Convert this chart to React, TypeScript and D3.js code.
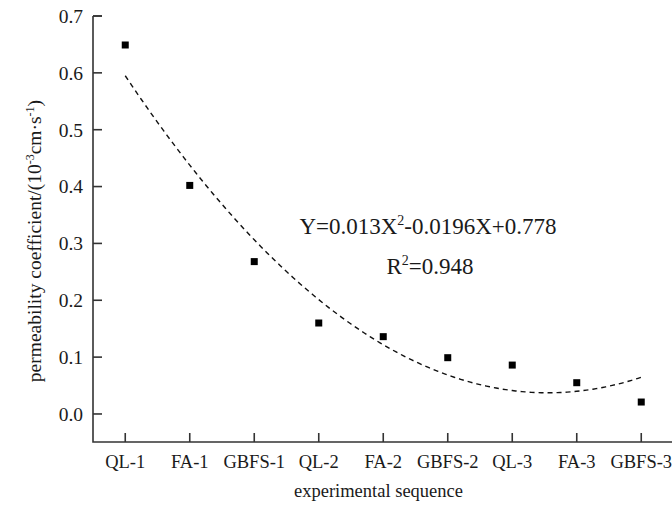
import { useEffect, useRef } from "react";
import * as d3 from "d3";

const categories = ["QL-1", "FA-1", "GBFS-1", "QL-2", "FA-2", "GBFS-2", "QL-3", "FA-3", "GBFS-3"];
const permeability = [0.649, 0.402, 0.268, 0.16, 0.136, 0.099, 0.086, 0.055, 0.021];
const yTicks = [0, 0.1, 0.2, 0.3, 0.4, 0.5, 0.6, 0.7];

// least squares quadratic fit of the measured points
const quadFit = (xs: number[], ys: number[]) => {
  const n = xs.length;
  const s = (f: (i: number) => number) => d3.sum(d3.range(n), f);
  const S1 = s((i) => xs[i]), S2 = s((i) => xs[i] ** 2), S3 = s((i) => xs[i] ** 3), S4 = s((i) => xs[i] ** 4);
  const Y0 = s((i) => ys[i]), Y1 = s((i) => xs[i] * ys[i]), Y2 = s((i) => xs[i] ** 2 * ys[i]);
  const M = [
    [n, S1, S2, Y0],
    [S1, S2, S3, Y1],
    [S2, S3, S4, Y2],
  ];
  for (let c = 0; c < 3; c++) {
    for (let r = c + 1; r < 3; r++) {
      const f = M[r][c] / M[c][c];
      for (let k = c; k < 4; k++) M[r][k] -= f * M[c][k];
    }
  }
  const sol = [0, 0, 0];
  for (let r = 2; r >= 0; r--) {
    let v = M[r][3];
    for (let k = r + 1; k < 3; k++) v -= M[r][k] * sol[k];
    sol[r] = v / M[r][r];
  }
  return (x: number) => sol[0] + sol[1] * x + sol[2] * x * x;
};

const App = () => {
  const ref = useRef<SVGSVGElement>(null);

  useEffect(() => {
    const svg = d3.select(ref.current);
    svg.selectAll("*").remove();

    const left = 93, right = 672, top = 16, bottom = 442;
    const font = "'Liberation Serif', 'Times New Roman', serif";
    const ink = "#1a1a1a";

    const x = d3.scaleLinear().domain([0.5, 9.5]).range([left, left + 64.5 * 9]);
    const y = d3.scaleLinear().domain([-0.0493, 0.7]).range([bottom, top]);

    const idx = categories.map((_, i) => i + 1);

    // axes
    svg.append("path")
      .attr("d", `M${left},${top}H${left + 9}M${left},${top}V${bottom}H${right}`)
      .attr("fill", "none").attr("stroke", "#333").attr("stroke-width", 1.6);

    const yAxis = svg.append("g");
    yTicks.forEach((t) => {
      yAxis.append("line")
        .attr("x1", left).attr("x2", left + 9)
        .attr("y1", y(t)).attr("y2", y(t))
        .attr("stroke", "#333").attr("stroke-width", 1.6);
      yAxis.append("text")
        .attr("x", left - 10).attr("y", y(t)).attr("dy", "0.35em")
        .attr("text-anchor", "end")
        .attr("font-family", font).attr("font-size", 19.5).attr("fill", ink)
        .text(d3.format(".1f")(t));
    });

    const xAxis = svg.append("g");
    categories.forEach((c, i) => {
      xAxis.append("line")
        .attr("x1", x(idx[i])).attr("x2", x(idx[i]))
        .attr("y1", bottom).attr("y2", bottom - 9)
        .attr("stroke", "#333").attr("stroke-width", 1.6);
      xAxis.append("text")
        .attr("x", x(idx[i])).attr("y", 468)
        .attr("text-anchor", "middle")
        .attr("font-family", font).attr("font-size", 18.5).attr("fill", ink)
        .text(c);
    });

    svg.append("text")
      .attr("x", (left + right) / 2 - 4).attr("y", 497)
      .attr("text-anchor", "middle")
      .attr("font-family", font).attr("font-size", 18.5).attr("fill", ink)
      .text("experimental sequence");

    const yl = svg.append("text")
      .attr("transform", `translate(41,241) rotate(-90)`)
      .attr("text-anchor", "middle")
      .attr("font-family", font).attr("font-size", 19.5).attr("fill", ink);
    yl.append("tspan").text("permeability coefficient/(10");
    yl.append("tspan").attr("dy", -7).attr("font-size", 12).text("-3");
    yl.append("tspan").attr("dy", 7).text("cm·s");
    yl.append("tspan").attr("dy", -7).attr("font-size", 12).text("-1");
    yl.append("tspan").attr("dy", 7).text(")");

    // fitted curve
    const fit = quadFit(idx, permeability);
    const curve = d3.range(1, 9.001, 0.05);
    svg.append("path")
      .datum(curve)
      .attr("d", d3.line<number>().x((d) => x(d)).y((d) => y(fit(d))))
      .attr("fill", "none").attr("stroke", "#111").attr("stroke-width", 1.4)
      .attr("stroke-dasharray", "5,4");

    // points
    svg.append("g").selectAll("rect")
      .data(permeability)
      .enter().append("rect")
      .attr("x", (d, i) => x(idx[i]) - 3.5)
      .attr("y", (d) => y(d) - 3.5)
      .attr("width", 7).attr("height", 7)
      .attr("fill", "#000");

    // equation
    const eq = svg.append("text")
      .attr("x", 428).attr("y", 234)
      .attr("text-anchor", "middle")
      .attr("font-family", font).attr("font-size", 23).attr("fill", ink);
    eq.append("tspan").text("Y=0.013X");
    eq.append("tspan").attr("dy", -9).attr("font-size", 14).text("2");
    eq.append("tspan").attr("dy", 9).text("-0.0196X+0.778");

    const r2 = svg.append("text")
      .attr("x", 430).attr("y", 274)
      .attr("text-anchor", "middle")
      .attr("font-family", font).attr("font-size", 23).attr("fill", ink);
    r2.append("tspan").text("R");
    r2.append("tspan").attr("dy", -9).attr("font-size", 14).text("2");
    r2.append("tspan").attr("dy", 9).text("=0.948");
  }, []);

  return (
    <svg
      ref={ref}
      width={672}
      height={509}
      style={{ position: "absolute", left: 0, top: 0, background: "#fff" }}
    />
  );
};

export default App;
